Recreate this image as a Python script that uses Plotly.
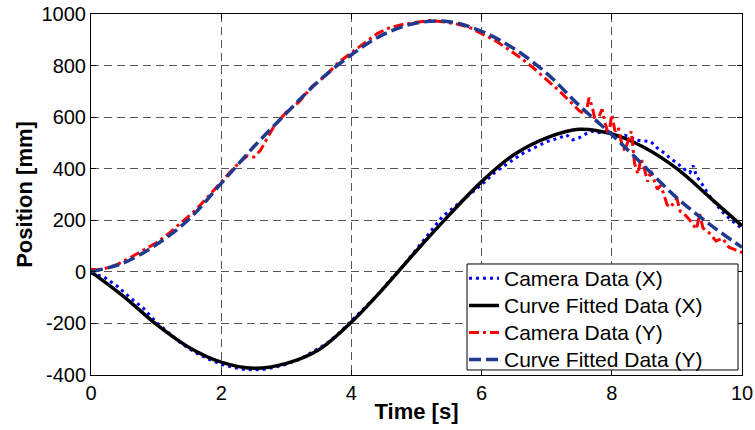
import plotly.graph_objects as go

# ---------------- data ----------------
t_fit = [0.0, 0.5, 1.0, 1.5, 2.0, 2.5, 3.0, 3.5, 4.0, 4.5, 5.0,
         5.5, 6.0, 6.5, 7.0, 7.5, 8.0, 8.5, 9.0, 9.5, 10.0]
x_fit = [0, -95, -203, -292, -350, -374, -355, -302, -195, -62, 82,
         220, 350, 455, 520, 553, 535, 482, 400, 290, 178]
y_fit = [0, 35, 105, 203, 343, 485, 615, 740, 842, 922, 965,
         970, 933, 865, 770, 645, 532, 410, 287, 185, 95]

t_cam_x = [0.0, 0.2, 0.4, 0.6, 0.8, 1.0, 1.2, 1.4, 1.6, 1.8, 2.0, 2.2, 2.4, 2.6, 2.8,
           3.0, 3.2, 3.4, 3.6, 3.8, 4.0, 4.2, 4.4, 4.6, 4.8, 5.0, 5.2, 5.4, 5.6, 5.8,
           6.0, 6.2, 6.4, 6.6, 6.8, 7.0, 7.2, 7.3, 7.4, 7.5, 7.6, 7.7, 7.8, 7.9, 8.0,
           8.1, 8.2, 8.3, 8.4, 8.5, 8.6, 8.7, 8.8, 8.9, 9.0, 9.1, 9.2, 9.25, 9.3, 9.4,
           9.5, 9.6, 9.7, 9.8, 9.9, 10.0]
cam_x = [-5, -20, -55, -100, -140, -195, -238, -280, -312, -338, -358, -372, -380, -380, -372,
         -358, -340, -310, -282, -240, -190, -140, -90, -30, 25, 88, 150, 215, 255, 295,
         338, 385, 420, 455, 480, 505, 520, 532, 512, 520, 535, 545, 540, 545, 535,
         525, 530, 520, 510, 508, 505, 480, 462, 440, 422, 400, 385, 412, 372, 335,
         295, 262, 232, 208, 188, 168]

t_cam_y = [0.0, 0.1, 0.2, 0.4, 0.6, 0.8, 1.0, 1.2, 1.4, 1.6, 1.8, 2.0, 2.2, 2.4, 2.5,
           2.6, 2.8, 3.0, 3.2, 3.4, 3.6, 3.8, 4.0, 4.2, 4.4, 4.6, 4.8, 5.0, 5.2, 5.4,
           5.6, 5.8, 6.0, 6.2, 6.4, 6.6, 6.8, 7.0, 7.2, 7.4, 7.5, 7.6, 7.65, 7.7, 7.75,
           7.8, 7.85, 7.9, 7.95, 8.0, 8.05, 8.1, 8.15, 8.2, 8.3, 8.35, 8.4, 8.45, 8.5, 8.55,
           8.6, 8.7, 8.75, 8.8, 8.85, 8.9, 9.0, 9.05, 9.1, 9.2, 9.3, 9.35, 9.4, 9.5, 9.6,
           9.7, 9.8, 9.9, 10.0]
cam_y = [10, 8, 12, 28, 55, 82, 112, 150, 195, 238, 292, 350, 405, 450, 445,
         470, 560, 620, 660, 720, 760, 812, 850, 890, 925, 948, 960, 968, 975, 970,
         962, 950, 925, 898, 865, 830, 790, 745, 700, 650, 625, 610, 675, 640, 580,
         600, 630, 575, 530, 610, 545, 560, 500, 470, 545, 420, 380, 440, 400, 350,
         390, 320, 335, 300, 260, 250, 285, 235, 228, 200, 165, 225, 170, 150, 120,
         130, 95, 85, 75]

x_ticks = [0, 2, 4, 6, 8, 10]
y_ticks = [-400, -200, 0, 200, 400, 600, 800, 1000]
series_names = ["Camera Data (X)", "Curve Fitted Data (X)", "Camera Data (Y)", "Curve Fitted Data (Y)"]

FONT = "Liberation Sans, Arial, sans-serif"


def leg(name):
    return '<span style="font-size:21px">' + name + '</span>'


fig = go.Figure()
fig.add_trace(go.Scatter(x=t_cam_x, y=cam_x, mode="lines", name=leg(series_names[0]),
                         line=dict(color="#0000FF", width=3, dash="3px,4px")))
fig.add_trace(go.Scatter(x=t_fit, y=x_fit, mode="lines", name=leg(series_names[1]),
                         line=dict(color="#000000", width=3.5, shape="spline", smoothing=1.0)))
fig.add_trace(go.Scatter(x=t_cam_y, y=cam_y, mode="lines", name=leg(series_names[2]),
                         line=dict(color="#FF0000", width=3, dash="10px,4px,3px,4px")))
fig.add_trace(go.Scatter(x=t_fit, y=y_fit, mode="lines", name=leg(series_names[3]),
                         line=dict(color="#1F3A8F", width=3.5, dash="12px,5px",
                                   shape="spline", smoothing=1.0)))

axis_common = dict(
    showline=True, linecolor="black", linewidth=1, mirror="ticks",
    ticks="inside", ticklen=5, tickcolor="black",
    showgrid=True, gridcolor="#555555", gridwidth=1, griddash="8px,5px",
    zeroline=False, automargin=False, ticklabeloverflow="allow",
    tickfont=dict(family=FONT, size=20, color="black"),
)

fig.update_xaxes(range=[0, 10], tickvals=x_ticks, ticktext=[str(v) for v in x_ticks],
                 title=dict(text="<b>Time [s]</b>", font=dict(family=FONT, size=22, color="black"),
                            standoff=0),
                 **axis_common)
fig.update_yaxes(range=[-400, 1000], tickvals=y_ticks, ticktext=[str(v) for v in y_ticks],
                 title=dict(text="<b>Position [mm]</b>", font=dict(family=FONT, size=22, color="black"),
                            standoff=2),
                 **axis_common)

# legend frame (MATLAB-style box with wide right padding)
fig.add_shape(type="rect", xref="paper", yref="paper",
              x0=0.5776, x1=0.9939, y0=0.0139, y1=0.3075,
              fillcolor="white", line=dict(color="black", width=1), layer="above")

fig.update_layout(
    width=755, height=430,
    margin=dict(l=91, r=13, t=14, b=55),
    paper_bgcolor="white", plot_bgcolor="white",
    legend=dict(x=0.573, y=0.319, xanchor="left", yanchor="top",
                bgcolor="rgba(0,0,0,0)", borderwidth=0,
                font=dict(family=FONT, size=18.5, color="black"),
                itemwidth=30, tracegroupgap=0),
    showlegend=True,
)

# remove the default 8px page margin so the figure fills the window exactly
fig.write_html("out.html", config={"displayModeBar": False},
               post_script="document.body.style.margin='0';")
